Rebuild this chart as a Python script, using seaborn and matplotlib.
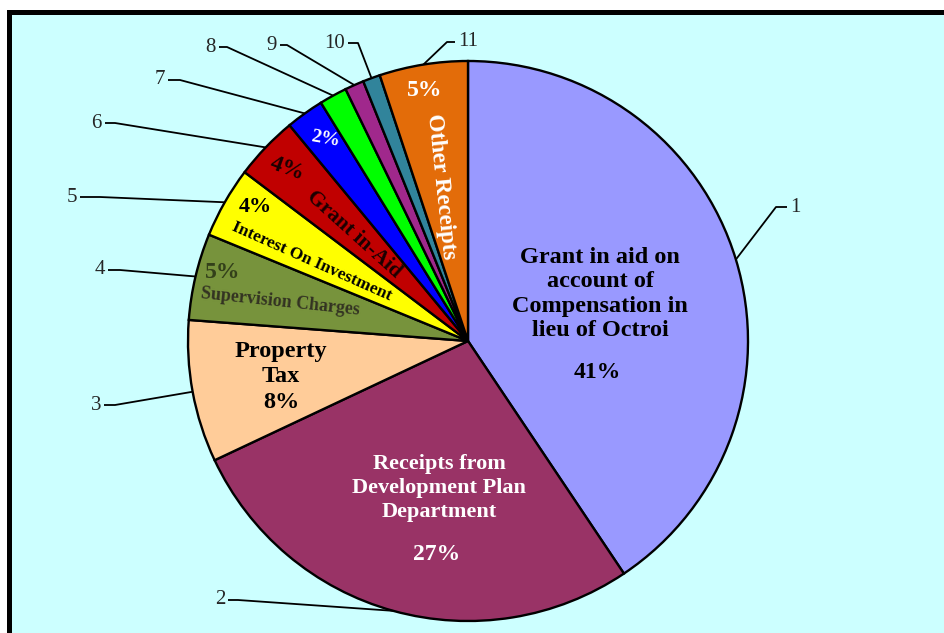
import matplotlib
matplotlib.use("Agg")
import matplotlib.pyplot as plt
import seaborn as sns
from matplotlib.patches import Rectangle
import numpy as np

# share of receipts (%), slice order clockwise from 12 o'clock
slice_ids = ['1', '2', '3', '4', '5', '6', '7', '8', '9', '10', '11']
shares = [40.6, 27.4, 8.2, 5.0, 4.1, 3.7, 2.2, 1.6, 1.1, 1.0, 5.1]
slice_colors = ['#9999FF', '#993366', '#FFCC99', '#77933C', '#FFFF00', '#C00000',
                '#0000FF', '#00FF00', '#A0288C', '#31849B', '#E36C09']
slice_names = ['Grant in aid on\naccount of\nCompensation in\nlieu of Octroi',
               'Receipts from\nDevelopment Plan\nDepartment',
               'Property\nTax', 'Supervision Charges', 'Interest On Investment',
               'Grant in-Aid', '', '', '', '', 'Other Receipts']

sns.set_style("white")
plt.rcParams['font.family'] = ['Liberation Serif', 'DejaVu Serif']

W, H = 944, 633
fig = plt.figure(figsize=(W / 100, H / 100), dpi=100, facecolor='white')
ax = fig.add_axes([0, 0, 1, 1])


def Y(y):
    # image rows -> data y (y axis points up)
    return H - y


cx, cy, R = 468, Y(341), 280

# cyan panel with thick black frame (right and bottom sides run off the image)
ax.add_patch(Rectangle((8.5, -30), 1000, Y(12) + 30, facecolor='#CCFFFF',
                       edgecolor='black', linewidth=3.6, zorder=0))

wedges, _ = ax.pie(shares, colors=slice_colors, startangle=90, counterclock=False,
                   center=(cx, cy), radius=R,
                   wedgeprops=dict(edgecolor='black', linewidth=1.7))
for w in wedges:
    w.set_zorder(2)

# leader lines: elbow point and tick end (image coords), text anchored past tick end
elbows = [(776, 207), (238, 600), (115, 405), (120, 270), (100, 197), (115, 123),
          (180, 80), (227, 47), (287, 45), (358, 43), (447, 42)]
tick_ends = [(787, 207), (228, 600), (104, 405), (108, 270), (80, 197), (105, 123),
             (168, 80), (219, 47), (280, 45), (348, 43), (455, 42)]
for w, sid, (ex, ey), (tx, ty) in zip(wedges, slice_ids, elbows, tick_ends):
    mid = np.deg2rad((w.theta1 + w.theta2) / 2)
    px, py = cx + R * np.cos(mid), cy + R * np.sin(mid)
    ax.plot([px, ex, tx], [py, Y(ey), Y(ty)], color='black', lw=1.3, zorder=3,
            solid_capstyle='butt')
    right = tx > ex
    ax.text(tx + (3 if right else -3), Y(ty), sid, fontsize=15,
            ha='left' if right else 'right', va='center', zorder=4)

pct = [f"{v:.0f}%" for v in shares]
bold = dict(fontweight='bold', ha='center', va='center', zorder=4)

ax.text(600, Y(294), slice_names[0], fontsize=17.5, linespacing=1.2, color='black', **bold)
ax.text(597, Y(372), pct[0], fontsize=17, color='black', **bold)

ax.text(439, Y(488), slice_names[1], fontsize=16, linespacing=1.3, color='white', **bold)
ax.text(437, Y(554), pct[1], fontsize=17, color='white', **bold)

ax.text(281, Y(377), slice_names[2] + '\n' + pct[2], fontsize=17.5, linespacing=1.25,
        color='black', **bold)

ax.text(223, Y(273), pct[3], fontsize=17, color='#33401A', **bold)
ax.text(280, Y(302), slice_names[3], fontsize=13, rotation=-6, color='#333322', **bold)

ax.text(255, Y(207), pct[4], fontsize=16, color='black', **bold)
ax.text(312, Y(262), slice_names[4], fontsize=12.5, rotation=-24, color='black', **bold)

ax.text(287, Y(169), pct[5], fontsize=17, rotation=-20, color='#1A0000', **bold)
ax.text(354, Y(234), slice_names[5], fontsize=15.5, rotation=-42, color='#1A0000', **bold)

ax.text(325, Y(139), pct[6], fontsize=14, rotation=-10, color='white', **bold)

ax.text(425, Y(90), pct[10], fontsize=17, color='white', **bold)
ax.text(441, Y(187), slice_names[10], fontsize=16.5, rotation=-84, color='white', **bold)

ax.set_xlim(0, W)
ax.set_ylim(0, H)
ax.set_aspect('equal')
ax.axis('off')

fig.savefig('out.png', dpi=100, facecolor='white')
